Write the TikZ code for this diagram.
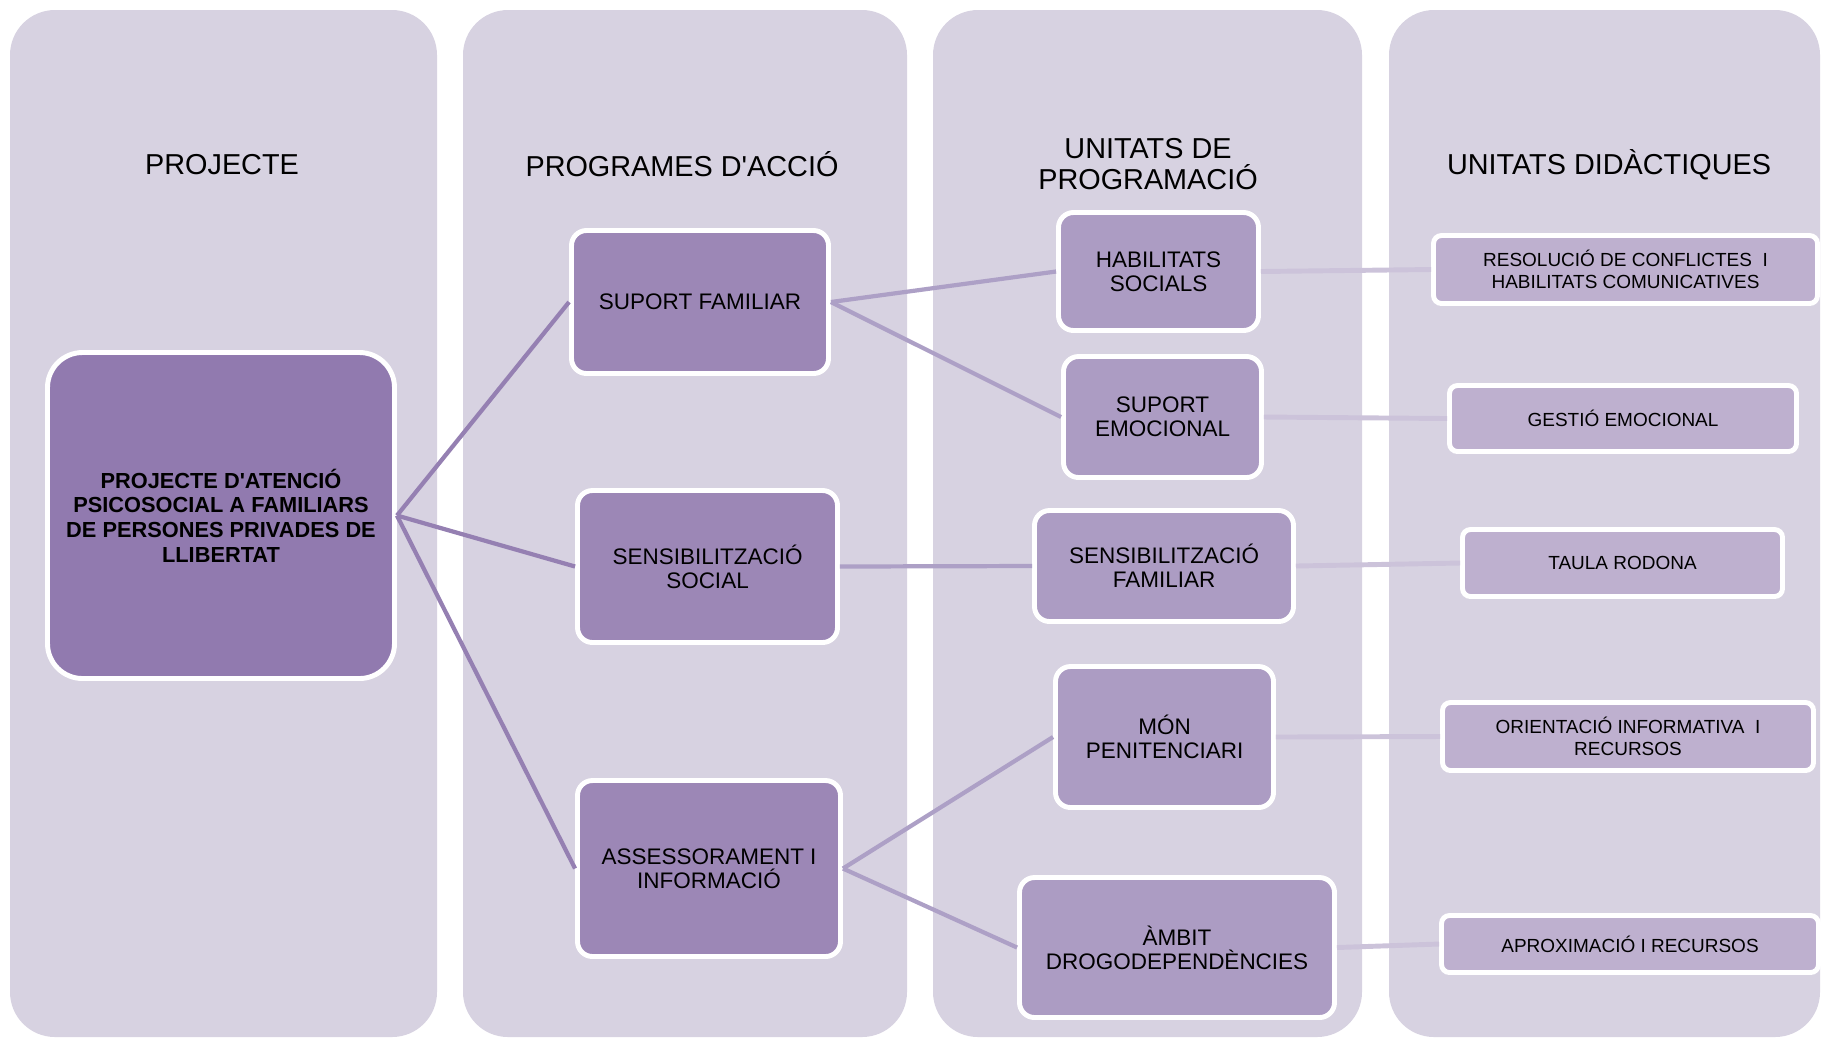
\documentclass[tikz,border=0pt]{standalone}
\usepackage{fontspec}
\setmainfont{Liberation Sans}

\definecolor{colbg}{HTML}{D7D2E1}
\definecolor{projfill}{HTML}{917AAF}
\definecolor{progfill}{HTML}{9C87B6}
\definecolor{unitfill}{HTML}{AC9CC3}
\definecolor{didfill}{HTML}{BEB0CF}
\definecolor{linkA}{HTML}{9580B2}
\definecolor{linkB}{HTML}{ADA0C6}
\definecolor{linkC}{HTML}{CCC3DA}

\tikzset{
  colhead/.style={align=center,font=\fontsize{8.2}{8.8}\selectfont},
  projbox/.style={draw=white,line width=1.4pt,fill=projfill,rounded corners=0.35cm,
    align=center,inner sep=0pt,font=\fontsize{6.2}{7}\selectfont\bfseries},
  progbox/.style={draw=white,line width=1.4pt,fill=progfill,rounded corners=0.15cm,
    align=center,inner sep=0pt,font=\fontsize{6.4}{6.9}\selectfont},
  unitbox/.style={progbox,fill=unitfill},
  didbox/.style={draw=white,line width=1.4pt,fill=didfill,rounded corners=0.08cm,
    align=center,inner sep=0pt,font=\fontsize{5.4}{6.2}\selectfont},
}

\begin{document}
\begin{tikzpicture}
\useasboundingbox (0,0) rectangle (18.22,-10.38);
\clip (0,0) rectangle (18.22,-10.38);

% columns
\fill[colbg,rounded corners=0.45cm] (0.10,-0.10) rectangle (4.37,-10.37);
\fill[colbg,rounded corners=0.45cm] (4.63,-0.10) rectangle (9.07,-10.37);
\fill[colbg,rounded corners=0.45cm] (9.33,-0.10) rectangle (13.62,-10.37);
\fill[colbg,rounded corners=0.45cm] (13.89,-0.10) rectangle (18.20,-10.37);

\node (hproj) at (2.22,-1.645) [colhead] {PROJECTE};
\node (hprog) at (6.82,-1.645) [colhead] {PROGRAMES D\textquotesingle ACCIÓ};
\node (hunit) at (11.48,-1.645) [colhead] {UNITATS DE\\PROGRAMACIÓ};
\node (hdid) at (16.09,-1.645) [colhead] {UNITATS DIDÀCTIQUES};

% project
\node (projecte) at (2.21,-5.155) [projbox,minimum width=3.47cm,minimum height=3.26cm]
  {PROJECTE D\textquotesingle ATENCIÓ\\PSICOSOCIAL A FAMILIARS\\DE PERSONES PRIVADES DE\\LLIBERTAT};

% programes
\node (sfam) at (7.00,-3.02) [progbox,minimum width=2.57cm,minimum height=1.43cm] {SUPORT FAMILIAR};
\node (ssoc) at (7.075,-5.665) [progbox,minimum width=2.60cm,minimum height=1.52cm] {SENSIBILITZACIÓ\\SOCIAL};
\node (assess) at (7.09,-8.685) [progbox,minimum width=2.63cm,minimum height=1.76cm] {ASSESSORAMENT I\\INFORMACIÓ};

% unitats de programacio
\node (habil) at (11.585,-2.715) [unitbox,minimum width=2.00cm,minimum height=1.18cm] {HABILITATS\\SOCIALS};
\node (semoc) at (11.625,-4.17) [unitbox,minimum width=1.98cm,minimum height=1.21cm] {SUPORT\\EMOCIONAL};
\node (sfami) at (11.64,-5.66) [unitbox,minimum width=2.59cm,minimum height=1.11cm] {SENSIBILITZACIÓ\\FAMILIAR};
\node (penit) at (11.645,-7.37) [unitbox,minimum width=2.18cm,minimum height=1.41cm] {MÓN\\PENITENCIARI};
\node (drogo) at (11.77,-9.475) [unitbox,minimum width=3.15cm,minimum height=1.40cm] {ÀMBIT\\DROGODEPENDÈNCIES};

% unitats didactiques
\node (resol) at (16.255,-2.695) [didbox,minimum width=3.84cm,minimum height=0.68cm] {RESOLUCIÓ DE CONFLICTES \ I\\HABILITATS COMUNICATIVES};
\node (gestio) at (16.23,-4.185) [didbox,minimum width=3.47cm,minimum height=0.66cm] {GESTIÓ EMOCIONAL};
\node (taula) at (16.225,-5.63) [didbox,minimum width=3.20cm,minimum height=0.67cm] {TAULA RODONA};
\node (orient) at (16.28,-7.365) [didbox,minimum width=3.71cm,minimum height=0.68cm] {ORIENTACIÓ INFORMATIVA \ I\\RECURSOS};
\node (aprox) at (16.30,-9.44) [didbox,minimum width=3.77cm,minimum height=0.57cm] {APROXIMACIÓ I RECURSOS};

% links
\draw[linkA,line width=1.2pt] (projecte.east) -- (sfam.west);
\draw[linkA,line width=1.2pt] (projecte.east) -- (ssoc.west);
\draw[linkA,line width=1.2pt] (projecte.east) -- (assess.west);

\draw[linkB,line width=1.2pt] (sfam.east) -- (habil.west);
\draw[linkB,line width=1.2pt] (sfam.east) -- (semoc.west);
\draw[linkB,line width=1.2pt] (ssoc.east) -- (sfami.west);
\draw[linkB,line width=1.2pt] (assess.east) -- (penit.west);
\draw[linkB,line width=1.2pt] (assess.east) -- (drogo.west);

\draw[linkC,line width=1.4pt] (habil.east) -- (resol.west);
\draw[linkC,line width=1.4pt] (semoc.east) -- (gestio.west);
\draw[linkC,line width=1.4pt] (sfami.east) -- (taula.west);
\draw[linkC,line width=1.4pt] (penit.east) -- (orient.west);
\draw[linkC,line width=1.4pt] (drogo.east) -- (aprox.west);

\end{tikzpicture}
\end{document}
